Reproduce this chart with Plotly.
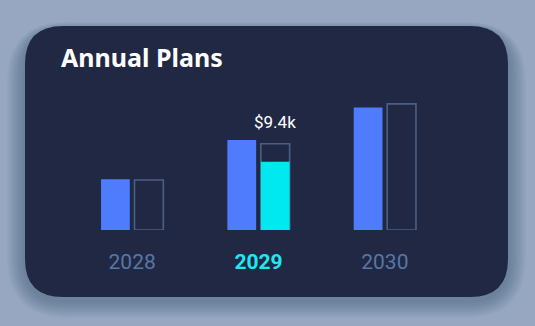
import plotly.graph_objects as go

# ---- data ----
years = ["2028", "2029", "2030"]
plan_values = [7.0, 12.4, 16.9]        # solid blue bars ($k)
target_values = [6.9, 11.9, 17.4]      # outlined bars ($k)
actual_values = [None, 9.4, None]      # cyan fill ($k)
highlight_year = "2029"
title_text = "Annual Plans"

# ---- styling ----
W, H = 535, 326
ML, MR, MT, MB = 69, 87, 85, 96
BG = "#97a7c1"
CARD = "#212843"
BLUE = "#4e7cfd"
CYAN = "#00e8f0"
OUTLINE = "#4b5f86"
TICK_GREY = "#5777a6"
BARGAP = 0.47
GROUPGAP = 0.14

PW = W - ML - MR
PH = H - MT - MB


def px(x):
    return (x - ML) / PW


def py(y):
    return ((H - MB) - y) / PH


def rounded_rect(x0, y0, x1, y1, r):
    # pixel coords -> paper path
    pts = [
        ("M", [(x0 + r, y0)]),
        ("L", [(x1 - r, y0)]),
        ("Q", [(x1, y0), (x1, y0 + r)]),
        ("L", [(x1, y1 - r)]),
        ("Q", [(x1, y1), (x1 - r, y1)]),
        ("L", [(x0 + r, y1)]),
        ("Q", [(x0, y1), (x0, y1 - r)]),
        ("L", [(x0, y0 + r)]),
        ("Q", [(x0, y0), (x0 + r, y0)]),
    ]
    s = ""
    for cmd, ps in pts:
        s += cmd + " " + " ".join(f"{px(a):.5f},{py(b):.5f}" for a, b in ps) + " "
    return s + "Z"


shapes = []
# soft shadow
for i in range(14, 0, -1):
    e = i * 1.6
    shapes.append(dict(
        type="path", xref="paper", yref="paper", layer="below",
        path=rounded_rect(25 - e * 0.8, 26 - e * 0.4 + 5, 508 + e * 0.8, 297 + e * 0.8 + 3, 38 + e),
        fillcolor="#40507a", opacity=0.035, line=dict(width=0),
    ))
# card
shapes.append(dict(
    type="path", xref="paper", yref="paper", layer="below",
    path=rounded_rect(25, 26, 508, 297, 38),
    fillcolor=CARD, line=dict(width=0),
))

fig = go.Figure()
fig.add_trace(go.Bar(
    x=years, y=plan_values, offsetgroup="a",
    marker=dict(color=BLUE, line=dict(width=0)),
    hoverinfo="skip",
))
fig.add_trace(go.Bar(
    x=years, y=target_values, offsetgroup="b",
    marker=dict(color="rgba(0,0,0,0)", line=dict(color=OUTLINE, width=1.6)),
    hoverinfo="skip",
))
fig.add_trace(go.Bar(
    x=years, y=actual_values, offsetgroup="b",
    marker=dict(color=CYAN, line=dict(width=0)),
    hoverinfo="skip",
))

# label above highlighted target bar
hi = years.index(highlight_year)
slot = (1 - BARGAP) / 2
fig.add_annotation(
    x=hi + slot / 2, y=target_values[hi], xref="x", yref="y",
    text=f"${actual_values[hi]:.1f}k", showarrow=False,
    yanchor="bottom", yshift=10,
    font=dict(family="Roboto, Inter, sans-serif", size=17, color="#ffffff"),
)

ticktext = []
for yv in years:
    if yv == highlight_year:
        ticktext.append(f"<b><span style='color:#1ee8f2'>{yv}</span></b>")
    else:
        ticktext.append(yv)

fig.update_layout(
    width=W, height=H,
    margin=dict(l=ML, r=MR, t=MT, b=MB, pad=0),
    paper_bgcolor=BG, plot_bgcolor="rgba(0,0,0,0)",
    barmode="group", bargap=BARGAP, bargroupgap=GROUPGAP,
    showlegend=False,
    shapes=shapes,
    title=dict(
        text=f"<b>{title_text}</b>", xref="container", yref="container",
        x=61 / W, xanchor="left", y=1 - 58 / H, yanchor="middle",
        font=dict(family="Noto Sans, sans-serif", size=25, color="#ffffff"),
    ),
    xaxis=dict(
        type="category", tickvals=years, ticktext=ticktext,
        range=[-0.5, 2.5], showgrid=False, zeroline=False, showline=False,
        ticks="", ticklabelstandoff=17,
        tickfont=dict(family="Roboto, sans-serif", size=21, color=TICK_GREY),
    ),
    yaxis=dict(
        range=[0, 20], showgrid=False, zeroline=False, showline=False,
        showticklabels=False, ticks="",
    ),
)

fig.write_html("out.html")
